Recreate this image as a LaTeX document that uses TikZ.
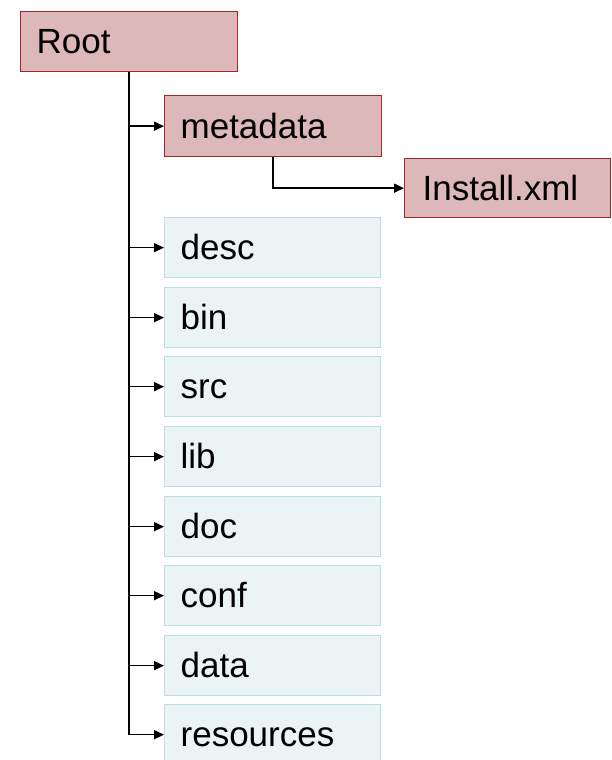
\documentclass[tikz,border=0pt]{standalone}
\usepackage{fontspec}
\setmainfont{Liberation Sans}
\usetikzlibrary{arrows.meta}
\definecolor{redfill}{HTML}{DDB8B8}
\definecolor{redline}{HTML}{A0282A}
\definecolor{bluefill}{HTML}{EAF4F5}
\definecolor{blueline}{HTML}{BCDFE2}
\tikzset{
  x=1pt,y=1pt,
  box/.style={draw, line width=1.3pt, anchor=north west, inner xsep=16pt, inner ysep=0pt,
    align=left, font=\fontsize{35}{35}\selectfont, text height=24pt, text depth=0pt},
  redbox/.style={box, fill=redfill, draw=redline},
  bluebox/.style={box, fill=bluefill, draw=blueline, minimum width=216pt, minimum height=60pt, text width=184pt},
  conn/.style={line width=1.6pt, -{Triangle[length=10pt,width=9pt]}}
}
\begin{document}
\begin{tikzpicture}
\useasboundingbox (0,0) rectangle (611,-760);
\node[redbox, minimum width=217pt, minimum height=60pt, text width=185pt] (root) at (20,-11) {Root};
\node[redbox, minimum width=217pt, minimum height=61pt, text width=185pt] (metadata) at (164,-95) {metadata};
\node[redbox, minimum width=206pt, minimum height=59pt, inner xsep=18pt, text width=170pt] (install) at (404,-158) {Install.xml};
\node[bluebox] (desc) at (164,-217) {desc};
\node[bluebox] (bin) at (164,-287) {bin};
\node[bluebox] (src) at (164,-356) {src};
\node[bluebox] (lib) at (164,-426) {lib};
\node[bluebox] (doc) at (164,-496) {doc};
\node[bluebox] (conf) at (164,-565) {conf};
\node[bluebox] (data) at (164,-635) {data};
\node[bluebox] (resources) at (164,-704) {resources};
\draw[conn] (root.south) |- (resources.west);
\foreach \n in {metadata,desc,bin,src,lib,doc,conf,data}{
  \draw[conn] (root.south |- \n.west) -- (\n.west);
}
\draw[conn] (metadata.south) |- (install.west);
\end{tikzpicture}
\end{document}
